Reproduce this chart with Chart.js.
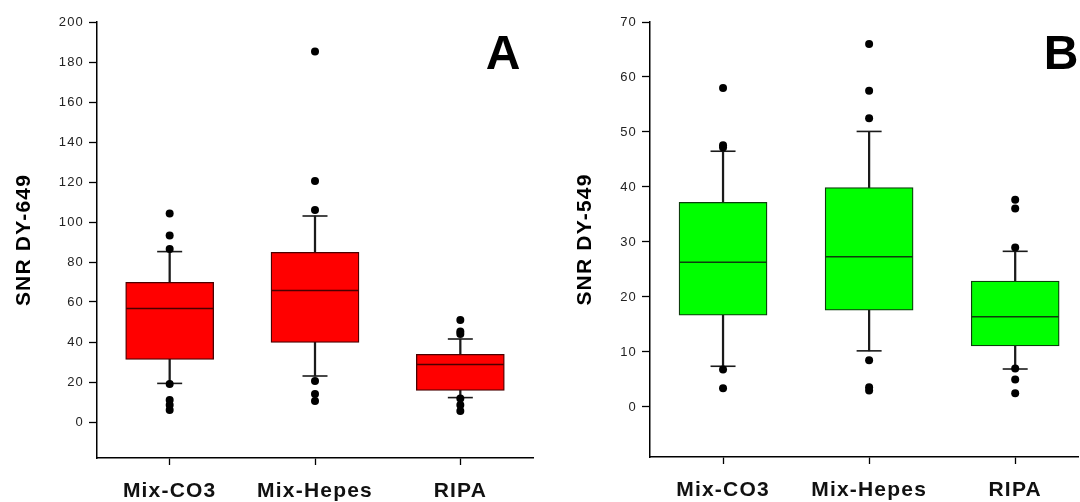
<!DOCTYPE html>
<html><head><meta charset="utf-8">
<script src="https://cdn.jsdelivr.net/npm/chart.js@4.4.1/dist/chart.umd.min.js"></script>
<style>
html,body{margin:0;padding:0;background:#fff;}
#wrap{position:relative;width:1080px;height:502px;overflow:hidden;background:#fff;}
.pane{position:absolute;top:0;width:540px;height:502px;}
</style></head><body>
<div id="wrap">
<div class="pane" style="left:0"><canvas id="cA" width="540" height="502"></canvas></div>
<div class="pane" style="left:540px"><canvas id="cB" width="540" height="502"></canvas></div>
</div>
<script>
const categories = ['Mix-CO3', 'Mix-Hepes', 'RIPA'];

// Panel A : SNR DY-649
const aQ1 = [31.3, 39.8, 15.8];
const aMedian = [56.8, 65.7, 28.8];
const aQ3 = [69.8, 84.8, 33.8];
const aWhiskerLow = [19.3, 23.0, 12.2];
const aWhiskerHigh = [85.2, 103.0, 41.5];
const aOutliers = [
  [104.3, 93.2, 86.5, 19.0, 11.0, 8.5, 6.0],
  [185.2, 120.5, 106.0, 20.5, 14.0, 10.5],
  [51.0, 45.2, 44.0, 11.8, 8.5, 5.5]
];
const aTickValues = [0, 20, 40, 60, 80, 100, 120, 140, 160, 180, 200];

// Panel B : SNR DY-549
const bQ1 = [16.7, 17.6, 11.1];
const bMedian = [26.3, 27.3, 16.4];
const bQ3 = [37.2, 39.9, 22.9];
const bWhiskerLow = [7.4, 10.2, 6.9];
const bWhiskerHigh = [46.5, 50.1, 28.3];
const bOutliers = [
  [58.0, 47.6, 47.2, 6.8, 3.4],
  [66.0, 57.5, 52.5, 8.5, 3.6, 3.0],
  [37.7, 36.1, 29.0, 7.0, 5.0, 2.5]
];
const bTickValues = [0, 10, 20, 30, 40, 50, 60, 70];

const FONT = '"Liberation Sans", Arial, sans-serif';

const spacingPlugin = {
  id: 'spacing',
  beforeDraw(chart) { try { chart.ctx.letterSpacing = '1.2px'; } catch (e) {} }
};
const panelLabel = {
  id: 'panelLabel',
  afterDraw(chart, args, o) {
    const { ctx, chartArea } = chart;
    ctx.save();
    try { ctx.letterSpacing = '0px'; } catch (e) {}
    ctx.font = 'bold 48px ' + FONT;
    ctx.fillStyle = '#000';
    ctx.textAlign = 'center';
    ctx.textBaseline = 'middle';
    ctx.fillText(o.text, chartArea.right + o.dx, chartArea.top + o.dy);
    ctx.restore();
  }
};

function makeChart(id, cfg) {
  const idx = categories.map((c, i) => i);
  const datasets = [
    { type: 'bar', label: 'whisker', data: idx.map(i => ({ x: i, y: [cfg.lo[i], cfg.hi[i]] })),
      backgroundColor: '#1a1a1a', borderWidth: 0, barThickness: 1.6, stack: 's', order: 5 },
    { type: 'bar', label: 'box', data: idx.map(i => ({ x: i, y: [cfg.q1[i], cfg.q3[i]] })),
      backgroundColor: cfg.fill, borderColor: cfg.edge, borderWidth: 1.3, borderSkipped: false,
      barThickness: 88, stack: 's', order: 4 },
    { type: 'scatter', label: 'median', data: idx.map(i => ({ x: i, y: cfg.med[i] })),
      pointStyle: 'line', pointRadius: 43.5, pointBorderColor: cfg.edge, pointBorderWidth: 1.5,
      pointHoverRadius: 43.5, order: 3 },
    { type: 'scatter', label: 'caps', data: idx.flatMap(i => [{ x: i, y: cfg.lo[i] }, { x: i, y: cfg.hi[i] }]),
      pointStyle: 'line', pointRadius: 12.5, pointBorderColor: '#1a1a1a', pointBorderWidth: 1.6, order: 2 },
    { type: 'scatter', label: 'outliers', data: idx.flatMap(i => cfg.out[i].map(v => ({ x: i, y: v }))),
      pointStyle: 'circle', pointRadius: 4, pointBackgroundColor: '#000', pointBorderColor: '#000',
      pointBorderWidth: 0, order: 1 }
  ];
  return new Chart(document.getElementById(id), {
    type: 'bar',
    data: { datasets },
    plugins: [spacingPlugin, panelLabel],
    options: {
      responsive: false,
      animation: false,
      events: [],
      layout: { autoPadding: false, padding: { top: 22, right: cfg.padRight, left: 0, bottom: 0 } },
      plugins: {
        legend: { display: false },
        tooltip: { enabled: false },
        panelLabel: { text: cfg.letter, dx: cfg.letterDx, dy: 34 }
      },
      scales: {
        x: {
          type: 'linear', min: -0.5, max: cfg.xMax, offset: false, stacked: true,
          afterBuildTicks: s => { s.ticks = idx.map(i => ({ value: i })); },
          afterFit: s => { s.height = cfg.xAxisHeight; },
          ticks: {
            callback: v => categories[v] ?? '',
            font: { family: FONT, size: 21, weight: 'bold' }, color: '#111',
            padding: 14, maxRotation: 0, autoSkip: false
          },
          grid: { display: true, drawOnChartArea: false, drawTicks: true, tickLength: 7,
                  tickColor: '#000', tickWidth: 1.3, offset: false },
          border: { display: true, color: '#000', width: 1.5 }
        },
        y: {
          type: 'linear', min: cfg.yMin, max: cfg.yMax, stacked: false, beginAtZero: false,
          afterBuildTicks: s => { s.ticks = cfg.ticks.map(v => ({ value: v })); },
          afterFit: s => { s.width = cfg.yAxisWidth; },
          ticks: { font: { family: FONT, size: 13 }, color: '#222', padding: 5 },
          grid: { drawOnChartArea: false, tickLength: 8, tickColor: '#000', tickWidth: 1.3 },
          border: { display: true, color: '#000', width: 1.5 },
          title: { display: true, text: cfg.yTitle, color: '#000',
                   font: { family: FONT, size: 21, weight: 'bold' },
                   padding: { top: cfg.titlePad, bottom: 0 } }
        }
      }
    }
  });
}

makeChart('cA', {
  q1: aQ1, med: aMedian, q3: aQ3, lo: aWhiskerLow, hi: aWhiskerHigh, out: aOutliers,
  ticks: aTickValues, yMin: -18, yMax: 200, yTitle: 'SNR DY-649',
  fill: '#ff0000', edge: '#4a0000', letter: 'A', letterDx: -30,
  xMax: 2.5, padRight: 7, yAxisWidth: 97, xAxisHeight: 44, titlePad: 12
});
makeChart('cB', {
  q1: bQ1, med: bMedian, q3: bQ3, lo: bWhiskerLow, hi: bWhiskerHigh, out: bOutliers,
  ticks: bTickValues, yMin: -9.1, yMax: 70, yTitle: 'SNR DY-549',
  fill: '#00ff00', edge: '#0d3d0d', letter: 'B', letterDx: -17,
  xMax: 2.43, padRight: 2, yAxisWidth: 110, xAxisHeight: 45, titlePad: 33
});
</script>
</body></html>
